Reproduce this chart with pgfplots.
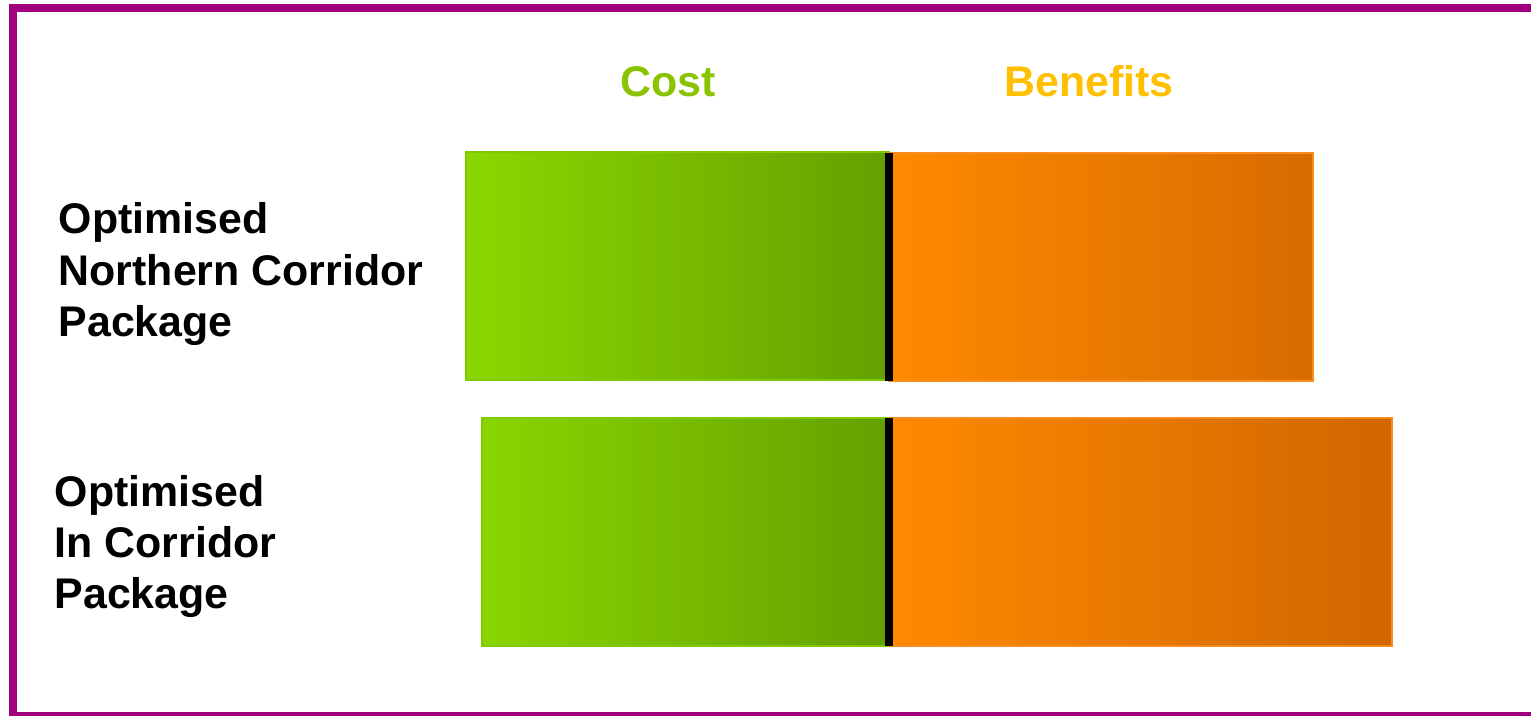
\documentclass[border=0pt]{standalone}
\usepackage{pgfplots}
\pgfplotsset{compat=1.18}
\usepackage{fontspec}
\setmainfont{Liberation Sans}
\definecolor{framec}{HTML}{A2007F}
\definecolor{costL}{HTML}{8CD700}
\definecolor{costR}{HTML}{64A000}
\definecolor{costE}{HTML}{80C800}
\definecolor{benL}{HTML}{FF8A00}
\definecolor{benM}{HTML}{F58200}
\definecolor{benR}{HTML}{D06600}
\definecolor{benE}{HTML}{F88C20}
\definecolor{costT}{HTML}{8AC400}
\definecolor{benT}{HTML}{FFC000}
\begin{document}
\begin{tikzpicture}
\begin{axis}[
  scale only axis, width=153.1mm, height=71.6mm,
  xmin=-889, xmax=642, ymin=0, ymax=716, y dir=reverse,
  hide axis, clip=false,
]
% Cost (negative = left of divider), y = bar centre
\addplot[xbar, bar shift=0pt, bar width=228, draw=costE, line width=0.15mm,
  left color=costL, right color=costR] coordinates {(-423,266) (-407,532)};
% Benefits
\addplot[xbar, bar shift=0pt, bar width=228, draw=benE, line width=0.15mm,
  left color=benL, middle color=benM, right color=benR] coordinates {(424,267) (503,532)};
% divider
\addplot[black, line width=0.87mm, unbounded coords=jump] coordinates {(0,153) (0,381) (0,nan) (0,418) (0,646)};
% frame
\draw[framec, line width=0.75mm] (axis cs:700,8) -- (axis cs:-876,8) -- (axis cs:-876,715.5) -- (axis cs:700,715.5);
% headers
\node[inner sep=0pt, anchor=base, text=costT, font=\fontsize{12.2}{14.6}\selectfont\bfseries] at (axis cs:-221,97) {Cost};
\node[inner sep=0pt, anchor=base, text=benT, font=\fontsize{12.2}{14.6}\selectfont\bfseries] at (axis cs:200,97) {Benefits};
% category labels
\tikzset{lab/.style={inner sep=0pt, anchor=base west, font=\fontsize{12.2}{14.6}\selectfont\bfseries}}
\node[lab] at (axis cs:-831,234) {Optimised};
\node[lab] at (axis cs:-831,286) {Northern Corridor};
\node[lab] at (axis cs:-831,337) {Package};
\node[lab] at (axis cs:-835,507) {Optimised};
\node[lab] at (axis cs:-835,558) {In Corridor};
\node[lab] at (axis cs:-835,609) {Package};
\end{axis}
\pgfresetboundingbox
\useasboundingbox (current axis.south west) rectangle (current axis.north east);
\end{tikzpicture}
\end{document}
